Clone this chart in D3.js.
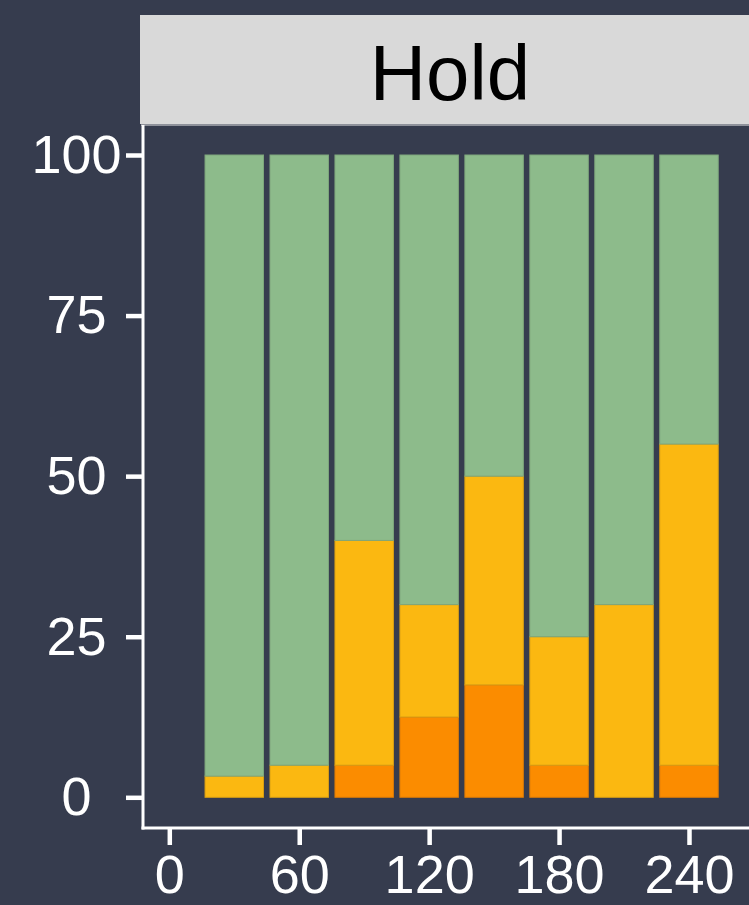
<!DOCTYPE html>
<html>
<head>
<meta charset="utf-8">
<script src="https://cdn.jsdelivr.net/npm/d3@7"></script>
<style>
  html, body { margin: 0; padding: 0; background: #363c4e; }
  svg { display: block; font-family: "Liberation Sans", Arial, sans-serif; }
</style>
</head>
<body>
<svg id="chart" width="749" height="905"></svg>
<script>
const TIMES = [30, 60, 90, 120, 150, 180, 210, 240];
const LOW = [0, 0, 5, 12.5, 17.5, 5, 0, 5];
const MID = [3.3, 5, 35, 17.5, 32.5, 20, 30, 50];
const HIGH = TIMES.map((t, i) => 100 - LOW[i] - MID[i]);

const X_TICKS = [0, 60, 120, 180, 240];
const Y_TICKS = [0, 25, 50, 75, 100];
const STRIP_LABEL = "Hold";

const SERIES = ["low", "mid", "high"];
const FILLS = { low: "#fb8c00", mid: "#fbb811", high: "#8dbb8b" };
const STROKES = { low: "#d97a08", mid: "#d99f14", high: "#7ea67c" };

const BG = "#363c4e";
const PANEL = { left: 143, right: 765, top: 125, bottom: 828 };

const svg = d3.select("#chart");
svg.append("rect").attr("width", 749).attr("height", 905).attr("fill", BG);

const x = d3.scaleLinear().domain([0, 240]).range([169.3, 689]);
const y = d3.scaleLinear().domain([0, 100]).range([797.3, 155]);
const barW = x(27) - x(0);

// strip
svg.append("rect")
  .attr("x", 140).attr("y", 15)
  .attr("width", 620).attr("height", 109)
  .attr("fill", "#d9d9d9");
svg.append("line")
  .attr("x1", 141).attr("x2", 760)
  .attr("y1", 125).attr("y2", 125)
  .attr("stroke", "#e6e6e6").attr("stroke-width", 1);
svg.append("text")
  .attr("x", 450).attr("y", 100)
  .attr("text-anchor", "middle")
  .attr("font-size", 78)
  .attr("fill", "#000")
  .text(STRIP_LABEL);

// stacked bars
const rows = TIMES.map((t, i) => ({ t, low: LOW[i], mid: MID[i], high: HIGH[i] }));
const stack = d3.stack().keys(SERIES)(rows);

stack.forEach((layer) => {
  svg.append("g")
    .selectAll("rect")
    .data(layer.filter((d) => d[1] - d[0] > 0))
    .enter()
    .append("rect")
    .attr("x", (d) => x(d.data.t) - barW / 2)
    .attr("width", barW)
    .attr("y", (d) => y(d[1]))
    .attr("height", (d) => y(d[0]) - y(d[1]))
    .attr("fill", FILLS[layer.key])
    .attr("stroke", STROKES[layer.key])
    .attr("stroke-width", 1);
});

// axes
const yAxis = svg.append("g")
  .attr("transform", `translate(${PANEL.left}, 0)`)
  .call(d3.axisLeft(y).tickValues(Y_TICKS).tickSize(17).tickPadding(5).tickSizeOuter(0));

const xAxis = svg.append("g")
  .attr("transform", `translate(0, ${PANEL.bottom})`)
  .call(d3.axisBottom(x).tickValues(X_TICKS).tickSize(17).tickPadding(10).tickSizeOuter(0));

[yAxis, xAxis].forEach((g) => {
  g.select(".domain").remove();
  g.selectAll(".tick line").attr("stroke", "#ffffff").attr("stroke-width", 4.5);
  g.selectAll(".tick text")
    .attr("fill", "#ffffff")
    .attr("font-size", 54)
    .attr("font-family", "Liberation Sans, Arial, sans-serif");
});

// y labels are centred in their column, like the reference
yAxis.selectAll(".tick text")
  .attr("text-anchor", "middle")
  .attr("x", 76.5 - PANEL.left);

// axis lines
svg.append("line")
  .attr("x1", PANEL.left).attr("x2", PANEL.left)
  .attr("y1", PANEL.top).attr("y2", PANEL.bottom + 1.5)
  .attr("stroke", "#ffffff").attr("stroke-width", 3);
svg.append("line")
  .attr("x1", PANEL.left - 1.5).attr("x2", PANEL.right)
  .attr("y1", PANEL.bottom).attr("y2", PANEL.bottom)
  .attr("stroke", "#ffffff").attr("stroke-width", 3);
</script>
</body>
</html>
